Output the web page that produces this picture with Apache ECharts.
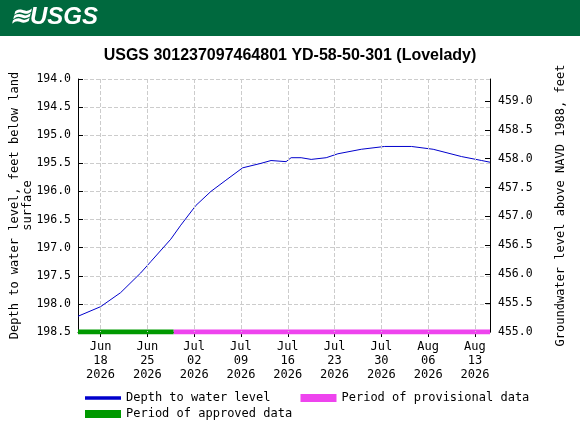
<!DOCTYPE html>
<html><head><meta charset="utf-8">
<script src="https://cdn.jsdelivr.net/npm/echarts@6/dist/echarts.min.js"></script>
<style>body{margin:0;background:#fff}#c{width:580px;height:430px}</style>
</head><body><div id="c"></div>
<script>
const dates = ['2026-06-14 15:00','2026-06-18 00:00','2026-06-21 00:00','2026-06-24 00:00','2026-06-25 12:00','2026-06-28 12:00','2026-06-30 00:00','2026-07-02 06:00','2026-07-04 12:00','2026-07-06 18:00','2026-07-09 06:00','2026-07-12 00:00','2026-07-13 12:00','2026-07-15 18:00','2026-07-16 12:00','2026-07-18 00:00','2026-07-19 12:00','2026-07-21 18:00','2026-07-23 12:00','2026-07-27 00:00','2026-07-30 12:00','2026-08-03 12:00','2026-08-06 18:00','2026-08-11 00:00','2026-08-14 00:00','2026-08-15 06:00'];
const depth = [198.22,198.05,197.8,197.45,197.25,196.85,196.6,196.25,196.0,195.8,195.58,195.5,195.45,195.47,195.4,195.4,195.43,195.4,195.33,195.25,195.2,195.2,195.25,195.38,195.45,195.48];
const approved = [['2026-06-14 15:00',198.5],['2026-06-28 22:00',198.5]];
const provisional = [['2026-06-28 22:00',198.5],['2026-08-15 06:00',198.5]];
const tickDates = ['2026-06-18','2026-06-25','2026-07-02','2026-07-09','2026-07-16','2026-07-23','2026-07-30','2026-08-06','2026-08-13'];
const mono = 'DejaVu Sans Mono';
const mon = ['Jan','Feb','Mar','Apr','May','Jun','Jul','Aug','Sep','Oct','Nov','Dec'];
const base = Date.UTC(2026,5,18);
const day = s => { const [d,t] = s.split(' '); const [y,m,dd] = d.split('-').map(Number); const h = t ? Number(t.split(':')[0]) : 0; return (Date.UTC(y,m-1,dd,h)-base)/86400000; };
const tickDays = tickDates.map(day);
const chart = echarts.init(document.getElementById('c'));
const grid = '#cccccc';
chart.setOption({
  animation:false,
  graphic:[
    {type:'rect',shape:{x:0,y:0,width:580,height:36},style:{fill:'#00693e'}},
    {type:'text',left:10,top:5,style:{text:'≋USGS',fill:'#fff',font:'bold italic 24px "Liberation Sans"'}}
  ],
  title:{text:'USGS 301237097464801 YD-58-50-301 (Lovelady)',left:'center',top:43,
    textStyle:{fontFamily:'Liberation Sans',fontSize:16,fontWeight:'bold',color:'#000'}},
  grid:{left:78,right:90,top:79,bottom:98,outerBoundsMode:'none',containLabel:false},
  legend:[
    {left:80,top:387,itemWidth:36,itemHeight:8,itemGap:30,textStyle:{fontFamily:mono,fontSize:12,color:'#000'},
     data:[{name:'Depth to water level',icon:'path://M0,45h100v10h-100z'},{name:'Period of provisional data',icon:'rect'}]},
    {left:80,top:403,itemWidth:36,itemHeight:8,textStyle:{fontFamily:mono,fontSize:12,color:'#000'},
     data:[{name:'Period of approved data',icon:'rect'}]}
  ],
  xAxis:{type:'value',min:day(dates[0]),max:day(dates[dates.length-1]),
    axisLine:{onZero:false,lineStyle:{color:'#000'}},
    axisTick:{customValues:tickDays,length:5,lineStyle:{color:'#000'}},
    splitLine:{show:false},
    axisLabel:{customValues:tickDays,fontFamily:mono,fontSize:12,color:'#000',lineHeight:14,
      formatter:v=>{const d=new Date(base+v*86400000);return mon[d.getUTCMonth()]+'\n'+String(d.getUTCDate()).padStart(2,'0')+'\n'+d.getUTCFullYear();}}},
  yAxis:[
    {type:'value',inverse:true,min:194,max:198.5,interval:0.5,
     name:'Depth to water level, feet below land\nsurface',nameLocation:'middle',nameGap:44,nameMoveOverlap:false,
     nameTextStyle:{fontFamily:mono,fontSize:12,color:'#000',lineHeight:13},
     axisLine:{show:true,onZero:false,lineStyle:{color:'#000'}},axisTick:{show:true,inside:true,lineStyle:{color:'#000'}},
     splitLine:{lineStyle:{type:'dashed',color:grid}},
     axisLabel:{fontFamily:mono,fontSize:11.5,color:'#000',margin:7,formatter:v=>v.toFixed(1)}},
    {type:'value',min:455,max:459.38,interval:0.5,position:'right',
     name:'Groundwater level above NAVD 1988, feet',nameLocation:'middle',nameGap:65,nameRotate:90,nameMoveOverlap:false,
     nameTextStyle:{fontFamily:mono,fontSize:12,color:'#000'},
     axisLine:{show:true,onZero:false,lineStyle:{color:'#000'}},axisTick:{show:true,inside:true,lineStyle:{color:'#000'}},
     splitLine:{show:false},
     axisLabel:{fontFamily:mono,fontSize:11.5,color:'#000',showMaxLabel:false,formatter:v=>v.toFixed(1)}}
  ],
  series:[
    {name:'Depth to water level',type:'line',showSymbol:false,color:'#0000cc',lineStyle:{width:1,color:'#0000cc'},
     data:dates.map((d,i)=>[day(d),depth[i]]),
     markLine:{silent:true,symbol:['none','none'],label:{show:false},lineStyle:{type:'dashed',color:grid,width:1},
       data:tickDays.map(x=>({xAxis:x,lineStyle:{type:'dashed',color:grid,width:1}}))}},
    {name:'Period of provisional data',type:'line',showSymbol:false,color:'#ee44ee',lineStyle:{width:5,color:'#ee44ee'},
     data:provisional.map(p=>[day(p[0]),p[1]]),z:3},
    {name:'Period of approved data',type:'line',showSymbol:false,color:'#009900',lineStyle:{width:5,color:'#009900'},
     data:approved.map(p=>[day(p[0]),p[1]]),z:3}
  ]
});
</script></body></html>
